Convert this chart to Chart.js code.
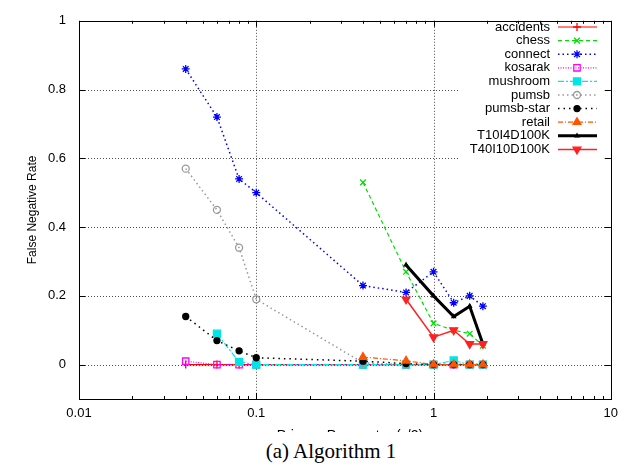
<!DOCTYPE html>
<html>
<head>
<meta charset="utf-8">
<script src="https://cdn.jsdelivr.net/npm/chart.js@4.4.1/dist/chart.umd.min.js"></script>
<style>
  html, body { margin: 0; padding: 0; background: #fff; width: 625px; height: 466px; overflow: hidden; }
  #plot { position: absolute; left: 0; top: 0; }
  #caption { position: absolute; left: 0; top: 439px; width: 662px; text-align: center;
             font-family: "Liberation Serif", serif; font-size: 21px; line-height: 24px; color: #000; }
</style>
</head>
<body>
<canvas id="plot" width="625" height="432"></canvas>
<div id="caption">(a) Algorithm 1</div>
<script>
// --- Data ---
const epsilon = [0.04, 0.06, 0.08, 0.1, 0.4, 0.7, 1, 1.3, 1.6, 1.9];

const accidents  = [0, 0, 0, 0, 0, 0, 0, 0, 0, 0];
const chess      = [null, null, null, null, 0.53, 0.27, 0.12, 0.10, 0.09, 0.055];
const connect    = [0.86, 0.72, 0.54, 0.50, 0.23, 0.21, 0.27, 0.18, 0.20, 0.17];
const kosarak    = [0.01, 0, 0, 0, 0, 0, 0, 0, 0, 0];
const mushroom   = [null, 0.09, 0.008, 0, 0, 0, 0, 0.012, 0, 0];
const pumsb      = [0.57, 0.45, 0.34, 0.19, 0.005, 0, 0, 0, 0, 0];
const pumsbStar  = [0.14, 0.07, 0.04, 0.02, 0.01, 0.003, 0, 0, 0, 0];
const retail     = [null, null, null, null, 0.022, 0.011, 0, 0, 0, 0];
const t10i4      = [null, null, null, null, null, 0.29, 0.20, 0.14, 0.17, 0.06];
const t40i10     = [null, null, null, null, null, 0.19, 0.08, 0.10, 0.06, 0.06];

const xTicks = [0.01, 0.1, 1, 10];
const yTicks = [0, 0.2, 0.4, 0.6, 0.8, 1];
const xGrid = [0.1, 1];
const yGrid = [0, 0.2, 0.4, 0.6, 0.8];

// --- Series styles (gnuplot-like) ---
const series = [
  { label: 'accidents',   values: accidents, color: '#ff0000', dash: [],           width: 1.2, point: 'cross',    r: 4,   fill: false },
  { label: 'chess',       values: chess,     color: '#00dd00', dash: [4, 3],       width: 1.2, point: 'crossRot', r: 4,   fill: false },
  { label: 'connect',     values: connect,   color: '#0000ff', dash: [1.5, 3],     width: 1.5, point: 'star',     r: 4,   fill: false },
  { label: 'kosarak',     values: kosarak,   color: '#ff00ff', dash: [1, 1.5],     width: 1.2, point: 'rect',     r: 4.5, fill: false },
  { label: 'mushroom',    values: mushroom,  color: '#00e5e5', dash: [6, 2, 2, 2], width: 1.2, point: 'rect',     r: 5,   fill: true },
  { label: 'pumsb',       values: pumsb,     color: '#999999', dash: [1.5, 3],     width: 1.5, point: 'circle',   r: 3.5, fill: false },
  { label: 'pumsb-star',  values: pumsbStar, color: '#000000', dash: [1.5, 4],     width: 1.5, point: 'circle',   r: 3,   fill: true },
  { label: 'retail',      values: retail,    color: '#ff5500', dash: [5, 2, 1, 2], width: 1.2, point: 'triangle', r: 4.5, fill: true },
  { label: 'T10I4D100K',  values: t10i4,     color: '#000000', dash: [],           width: 3,   point: 'triangle', r: 2,   fill: true },
  { label: 'T40I10D100K', values: t40i10,    color: '#ff2020', dash: [],           width: 1.5, point: 'triangle', r: 4.5, fill: true, rot: 180 }
];

const datasets = series.map((s, i) => ({
  label: s.label,
  data: epsilon.map((x, j) => ({ x: x, y: s.values[j] })).filter(p => p.y !== null),
  borderColor: s.color,
  borderWidth: s.width,
  borderDash: s.dash,
  pointStyle: s.point,
  pointRadius: s.r,
  pointRotation: s.rot || 0,
  pointBorderColor: s.color,
  pointBorderWidth: 1.3,
  pointBackgroundColor: s.fill ? s.color : 'rgba(0,0,0,0)',
  tension: 0,
  fill: false,
  order: series.length - i   // later series drawn on top
}));

const FONT = '"Liberation Sans", Arial, sans-serif';

// grid, frame, inward ticks, key and axis titles
const framePlugin = {
  id: 'frame',
  beforeDatasetsDraw(chart) {
    const { ctx, chartArea: a, scales: { x, y } } = chart;
    ctx.save();
    ctx.strokeStyle = 'rgba(0,0,0,0.7)';
    ctx.lineWidth = 1;
    ctx.setLineDash([1, 2]);
    xGrid.forEach(v => {
      const px = Math.round(x.getPixelForValue(v)) + 0.5;
      ctx.beginPath(); ctx.moveTo(px, a.top); ctx.lineTo(px, a.bottom); ctx.stroke();
    });
    yGrid.forEach(v => {
      const py = Math.round(y.getPixelForValue(v)) + 0.5;
      ctx.beginPath(); ctx.moveTo(a.left, py); ctx.lineTo(a.right, py); ctx.stroke();
    });
    // opaque key box
    ctx.fillStyle = '#fff';
    ctx.fillRect(460, a.top + 1, a.right - 461, 145);
    ctx.restore();
  },
  afterDatasetsDraw(chart) {
    const { ctx, chartArea: a, scales: { x, y } } = chart;
    ctx.save();
    ctx.setLineDash([]);
    ctx.strokeStyle = '#000';
    ctx.lineWidth = 1;

    // tick marks
    const tick = (x0, y0, x1, y1) => { ctx.beginPath(); ctx.moveTo(x0, y0); ctx.lineTo(x1, y1); ctx.stroke(); };
    for (let d = -2; d <= 1; d++) {
      for (let k = 1; k <= 9; k++) {
        const v = k * Math.pow(10, d);
        if (v > 10) break;
        const px = Math.round(x.getPixelForValue(v)) + 0.5;
        const len = k === 1 ? 6 : 3;
        tick(px, a.bottom, px, a.bottom - len);
        tick(px, a.top, px, a.top + len);
      }
    }
    yTicks.forEach(v => {
      const py = Math.round(y.getPixelForValue(v)) + 0.5;
      tick(a.left, py, a.left + 6, py);
      tick(a.right, py, a.right - 6, py);
    });

    // frame
    ctx.strokeRect(Math.round(a.left) + 0.5, Math.round(a.top) + 0.5,
                   Math.round(a.right - a.left), Math.round(a.bottom - a.top));

    // key
    ctx.font = '13px ' + FONT;
    ctx.textAlign = 'right';
    ctx.textBaseline = 'middle';
    series.forEach((s, i) => {
      const ry = 27 + i * 13.6;
      ctx.fillStyle = '#000';
      ctx.fillText(s.label, 550, ry);
      ctx.strokeStyle = s.color;
      ctx.lineWidth = s.width;
      ctx.setLineDash(s.dash);
      ctx.beginPath(); ctx.moveTo(558, ry); ctx.lineTo(597, ry); ctx.stroke();
      ctx.setLineDash([]);
      ctx.lineWidth = 1.3;
      ctx.fillStyle = s.fill ? s.color : 'rgba(0,0,0,0)';
      Chart.helpers.drawPoint(ctx, { pointStyle: s.point, radius: s.r, rotation: s.rot || 0, borderWidth: 1.3 }, 577, ry);
    });

    // axis titles
    ctx.fillStyle = '#000';
    ctx.font = '12px ' + FONT;
    ctx.textAlign = 'center';
    ctx.textBaseline = 'middle';
    ctx.save();
    ctx.translate(33, (a.top + a.bottom) / 2);
    ctx.rotate(-Math.PI / 2);
    ctx.fillText('False Negative Rate', 0, 0);
    ctx.restore();
    ctx.font = '14px ' + FONT;
    ctx.textBaseline = 'alphabetic';
    ctx.fillText('Privacy Parameter (\u03b5/2)', 350, 440);
    ctx.restore();
  }
};

new Chart(document.getElementById('plot'), {
  type: 'line',
  data: { datasets: datasets },
  plugins: [framePlugin],
  options: {
    responsive: false,
    animation: false,
    layout: { padding: { top: 14, right: 9, left: 0, bottom: 0 } },
    plugins: { legend: { display: false }, tooltip: { enabled: false } },
    scales: {
      x: {
        type: 'logarithmic', min: 0.01, max: 10,
        grid: { display: false, drawTicks: false },
        border: { display: false },
        afterBuildTicks: s => { s.ticks = xTicks.map(v => ({ value: v })); },
        afterFit: s => { s.height = 33; },
        ticks: { padding: 7, color: '#000', maxRotation: 0, autoSkip: false,
                 font: { family: FONT, size: 13 }, callback: v => String(v) }
      },
      y: {
        min: -0.1, max: 1,
        grid: { display: false, drawTicks: false },
        border: { display: false },
        afterBuildTicks: s => { s.ticks = yTicks.map(v => ({ value: v })); },
        afterFit: s => { s.width = 79; },
        ticks: { padding: 13, color: '#000', font: { family: FONT, size: 13 },
                 callback: v => String(Math.round(v * 10) / 10) }
      }
    }
  }
});
</script>
</body>
</html>
